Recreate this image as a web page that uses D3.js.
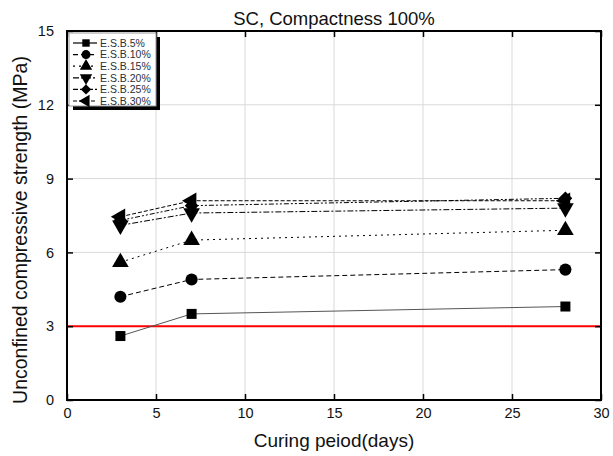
<!DOCTYPE html>
<meta charset="utf-8">
<style>
body { margin: 0; background: #fff; }
text { font-family: Arial, "Liberation Sans", sans-serif; }
</style>
<svg width="613" height="456"></svg>
<script src="https://d3js.org/d3.v7.min.js"></script>
<script>

var days = [3, 7, 28];
var seriesNames = ["E.S.B.5%", "E.S.B.10%", "E.S.B.15%", "E.S.B.20%", "E.S.B.25%", "E.S.B.30%"];
var esb5 = [2.6, 3.5, 3.8];
var esb10 = [4.2, 4.9, 5.3];
var esb15 = [5.6, 6.5, 6.9];
var esb20 = [7.1, 7.6, 7.8];
var esb25 = [7.3, 7.9, 8.2];
var esb30 = [7.45, 8.1, 8.1];
var xTicks = [0, 5, 10, 15, 20, 25, 30];
var yTicks = [0, 3, 6, 9, 12, 15];
var limitLine = 3;

var allSeries = [esb5, esb10, esb15, esb20, esb25, esb30];
var dashes = ["none", "5,3", "2,4", "6,2,2,2", "5,2,2,2,2,2", "4,2"];
var lineColors = ["#555", "#000", "#000", "#000", "#000", "#000"];
var symbols = [d3.symbolSquare, d3.symbolCircle, "up", "down", "diamond", "left"];

var svg = d3.select("svg");
var margin = {left: 67, right: 12, top: 31, bottom: 56};
var W = 613, H = 456;

var x = d3.scaleLinear().domain([0, 30]).range([margin.left, W - margin.right]);
var y = d3.scaleLinear().domain([0, 15]).range([H - margin.bottom, margin.top]);

// grid
var g = svg.append("g");
g.selectAll(".vg").data(xTicks.slice(1, -1)).enter().append("line")
  .attr("x1", d => x(d)).attr("x2", d => x(d))
  .attr("y1", y(0)).attr("y2", y(15))
  .attr("stroke", "#d9d9d9").attr("stroke-width", 1);
g.selectAll(".hg").data(yTicks.slice(1, -1)).enter().append("line")
  .attr("y1", d => y(d)).attr("y2", d => y(d))
  .attr("x1", x(0)).attr("x2", x(30))
  .attr("stroke", "#d9d9d9").attr("stroke-width", 1);

// red limit
svg.append("line")
  .attr("x1", x(0)).attr("x2", x(30))
  .attr("y1", y(limitLine)).attr("y2", y(limitLine))
  .attr("stroke", "#ff0000").attr("stroke-width", 2);

// axes
var xAxis = svg.append("g").attr("transform", "translate(0," + y(0) + ")")
  .call(d3.axisBottom(x).tickValues(xTicks).tickSizeInner(-6).tickSizeOuter(0).tickPadding(8));
var xTop = svg.append("g").attr("transform", "translate(0," + y(15) + ")")
  .call(d3.axisTop(x).tickValues(xTicks).tickSizeInner(-6).tickSizeOuter(0).tickFormat(""));
var yAxis = svg.append("g").attr("transform", "translate(" + x(0) + ",0)")
  .call(d3.axisLeft(y).tickValues(yTicks).tickSizeInner(-6).tickSizeOuter(0).tickPadding(13));
var yRight = svg.append("g").attr("transform", "translate(" + x(30) + ",0)")
  .call(d3.axisRight(y).tickValues(yTicks).tickSizeInner(-6).tickSizeOuter(0).tickFormat(""));

[xAxis, xTop, yAxis, yRight].forEach(function(a) {
  a.select(".domain").remove();
  a.selectAll(".tick line").attr("stroke", "#000").attr("stroke-width", 1.5);
  a.selectAll("text").style("font-size", "14.5px").attr("fill", "#111");
});

svg.append("rect")
  .attr("x", x(0)).attr("y", y(15))
  .attr("width", x(30) - x(0)).attr("height", y(0) - y(15))
  .attr("fill", "none").attr("stroke", "#000").attr("stroke-width", 2);

function markerPath(sym, size) {
  if (sym === "up" || sym === "down" || sym === "left") return d3.symbol().type(d3.symbolTriangle).size(size)();
  if (sym === "diamond") return d3.symbol().type(d3.symbolSquare).size(size * 0.7)();
  return d3.symbol().type(sym).size(size)();
}
function markerRot(sym) {
  if (sym === "down") return 180;
  if (sym === "left") return -90;
  if (sym === "diamond") return 45;
  return 0;
}
var sizes = [100, 115, 120, 120, 135, 120];

var line = d3.line().x((d, i) => x(days[i])).y(d => y(d));

allSeries.forEach(function(vals, k) {
  svg.append("path").datum(vals)
    .attr("d", line)
    .attr("fill", "none")
    .attr("stroke", lineColors[k])
    .attr("stroke-width", 1)
    .attr("stroke-dasharray", dashes[k]);
});
allSeries.forEach(function(vals, k) {
  svg.selectAll(".m" + k).data(vals).enter().append("path")
    .attr("d", markerPath(symbols[k], sizes[k]))
    .attr("transform", (d, i) => "translate(" + x(days[i]) + "," + y(d) + ") rotate(" + markerRot(symbols[k]) + ")")
    .attr("fill", "#000");
});

// legend
var lg = svg.append("g").attr("transform", "translate(69,33)");
lg.append("rect").attr("x", 4).attr("y", 4).attr("width", 87).attr("height", 73).attr("fill", "#000");
lg.append("rect").attr("x", 0).attr("y", 0).attr("width", 87).attr("height", 73)
  .attr("fill", "#fff").attr("stroke", "#999").attr("stroke-width", 1);
seriesNames.forEach(function(name, k) {
  var yy = 10 + k * 11.6;
  lg.append("line").attr("x1", 4).attr("x2", 28).attr("y1", yy).attr("y2", yy)
    .attr("stroke", "#000").attr("stroke-width", 1.2).attr("stroke-dasharray", dashes[k]);
  lg.append("path").attr("d", markerPath(symbols[k], sizes[k] * 0.55))
    .attr("transform", "translate(17," + yy + ") rotate(" + markerRot(symbols[k]) + ")")
    .attr("fill", "#000");
  lg.append("text").attr("x", 31).attr("y", yy).attr("dy", "0.36em")
    .style("font-size", "10.5px").attr("fill", "#2a2f3a").text(name);
});

// titles
svg.append("text").attr("x", (x(0) + x(30)) / 2).attr("y", 25)
  .attr("text-anchor", "middle").style("font-size", "18.5px").attr("fill", "#111")
  .text("SC, Compactness 100%");
svg.append("text").attr("x", (x(0) + x(30)) / 2).attr("y", 447)
  .attr("text-anchor", "middle").style("font-size", "19px").attr("fill", "#111")
  .text("Curing peiod(days)");
svg.append("text")
  .attr("transform", "translate(27,230) rotate(-90)")
  .attr("text-anchor", "middle").style("font-size", "19.5px").attr("fill", "#111")
  .text("Unconfined compressive strength (MPa)");

</script>
